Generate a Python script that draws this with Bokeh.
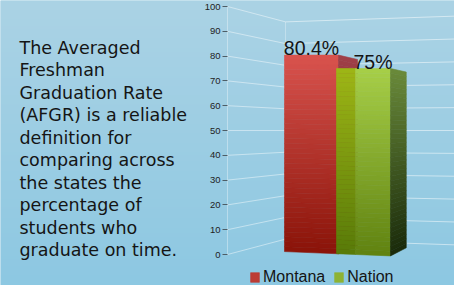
import numpy as np
from bokeh.plotting import figure
from bokeh.models import (Range1d, FixedTicker, LinearAxis, Legend, LegendItem,
                          ColumnDataSource)
from bokeh.core.properties import value
from bokeh.embed import file_html
from bokeh.resources import INLINE

# ---------------- data ----------------
categories = ["Montana", "Nation"]
rates = [80.4, 75.0]
rate_labels = ["80.4%", "75%"]
y_ticks = [0, 10, 20, 30, 40, 50, 60, 70, 80, 90, 100]
y_tick_labels = ["0", "10", "20", "30", "40", "50", "60", "70", "80", "90", "100"]
paragraph = ["The Averaged", "Freshman", "Graduation Rate", "(AFGR) is a reliable",
             "definition for", "comparing across", "the states the",
             "percentage of", "students who", "graduate on time."]

# ---------------- layout / style ----------------
W, H = 454, 285
Y0_PX = 254.0          # pixel row (from top) of value 0
PX_PER_UNIT = 2.48


def val(fy):
    return (Y0_PX - fy) / PX_PER_UNIT


BG_TOP = np.array([171, 211, 229])
BG_BOTTOM = np.array([141, 200, 226])

AXIS_X = 227
BACK_X = 285
RIGHT_X = 457
EDGE_X = 455
BACK_K = 0.876
RIGHT_K = 0.923
MID_V = 50

FRONT_LEFT = 284
SLOT = 52
FRONT_W = 54
VP_X, VP_V = 643.0, 52.0
DEPTH_F = 0.0623
BASE_V0, BASE_SLOPE = 1.18, 0.0165
N = 40

FONT_CHART = "Liberation Sans"

colors = [
    dict(front=((217, 83, 78), (138, 19, 8)), side=((160, 64, 72), (90, 12, 8)),
         band=None),
    dict(front=((167, 207, 72), (96, 130, 16)), side=((106, 138, 58), (26, 42, 10)),
         band=((158, 182, 22), (88, 122, 8))),
]

p = figure(width=W, height=H, x_range=Range1d(0, W), y_range=Range1d(val(H), val(0)),
           output_backend="svg", toolbar_location=None, min_border=0,
           x_axis_type=None, y_axis_type=None)
p.outline_line_color = None
p.xgrid.visible = False
p.ygrid.visible = False
p.border_fill_color = "#abd3e5"
p.background_fill_color = "#9ccde3"

# background gradient
rows = H
img = np.empty((rows, 1), dtype=np.uint32)
view = img.view(dtype=np.uint8).reshape((rows, 1, 4))
for i in range(rows):
    t = i / (rows - 1)
    c = BG_BOTTOM + (BG_TOP - BG_BOTTOM) * t
    view[i, 0, 0] = int(c[0]); view[i, 0, 1] = int(c[1]); view[i, 0, 2] = int(c[2]); view[i, 0, 3] = 255
p.image_rgba(image=[img], x=0, y=val(H), dw=W, dh=val(0) - val(H))

# perspective grid
lx0, ly0, lx1, ly1 = [], [], [], []
bx0, by0, bx1, by1 = [], [], [], []
for v in y_ticks:
    vb = MID_V + (v - MID_V) * BACK_K
    vr = MID_V + (v - MID_V) * RIGHT_K
    lx0.append(AXIS_X); ly0.append(v); lx1.append(BACK_X); ly1.append(vb)
    bx0.append(BACK_X); by0.append(vb); bx1.append(RIGHT_X); by1.append(vr)
p.segment(lx0, ly0, lx1, ly1, line_color="white", line_alpha=0.45, line_width=1)
p.segment(bx0, by0, bx1, by1, line_color="white", line_alpha=0.5, line_width=1)
vmin, vmax = min(y_ticks), max(y_ticks)
p.segment([BACK_X, EDGE_X],
          [MID_V + (vmin - MID_V) * BACK_K, MID_V + (vmin - MID_V) * RIGHT_K],
          [BACK_X, EDGE_X],
          [MID_V + (vmax - MID_V) * BACK_K, MID_V + (vmax - MID_V) * RIGHT_K],
          line_color="white", line_alpha=0.3, line_width=1)


def lerp(a, b, t):
    return tuple(int(round(a[k] + (b[k] - a[k]) * t)) for k in range(3))


def hexc(c):
    return "#%02x%02x%02x" % c


def face(tl, tr, br, bl, ctop, cbot):
    xs, ys, cs = [], [], []
    for k in range(N):
        t0, t1 = k / N, (k + 1) / N
        L0 = (tl[0] + (bl[0] - tl[0]) * t0, tl[1] + (bl[1] - tl[1]) * t0)
        L1 = (tl[0] + (bl[0] - tl[0]) * t1, tl[1] + (bl[1] - tl[1]) * t1)
        R0 = (tr[0] + (br[0] - tr[0]) * t0, tr[1] + (br[1] - tr[1]) * t0)
        R1 = (tr[0] + (br[0] - tr[0]) * t1, tr[1] + (br[1] - tr[1]) * t1)
        xs.append([L0[0], R0[0], R1[0], L1[0]])
        ys.append([L0[1], R0[1], R1[1], L1[1]])
        cs.append(hexc(lerp(ctop, cbot, (t0 + t1) / 2)))
    src = ColumnDataSource(dict(xs=xs, ys=ys, color=cs))
    return p.patches("xs", "ys", source=src, fill_color="color", line_color="color",
                     line_width=0.6)


def base(x):
    return BASE_V0 - (x - FRONT_LEFT) * BASE_SLOPE


legend_renderers = []
label_x = []
prev_depth = 0
for i, v in enumerate(rates):
    col = colors[i]
    left = FRONT_LEFT + i * SLOT
    right = left + FRONT_W
    split = left + prev_depth if col["band"] is not None else left
    if col["band"] is not None:
        face((left, v), (split, v), (split, base(split)), (left, base(left)),
             *col["band"])
    fr = face((split, v), (right, v), (right, base(right)), (split, base(split)),
              *col["front"])
    legend_renderers.append(fr)
    label_x.append((split + right) / 2)
    # side face toward vanishing point
    bx = right + (VP_X - right) * DEPTH_F
    top_b = v + (VP_V - v) * DEPTH_F
    bot_f = base(right)
    bot_b = bot_f + (VP_V - bot_f) * DEPTH_F
    face((right, v), (bx, top_b), (bx, bot_b), (right, bot_f), *col["side"])
    prev_depth = bx - right

# value labels
p.text(x=label_x, y=rates, text=rate_labels, text_align="center",
       text_baseline="alphabetic", y_offset=-7, text_font=value(FONT_CHART),
       text_font_size="19.5px", text_color="#141414")

# left paragraph
p.text(x=[19] * len(paragraph), y=[val(47 + 22.5 * i) for i in range(len(paragraph))],
       text=paragraph, text_align="left", text_baseline="alphabetic",
       text_font=value("DejaVu Sans"), text_font_size="17.5px", text_color="#151515")

# y axis placed inside the frame
yaxis = LinearAxis(fixed_location=AXIS_X, ticker=FixedTicker(ticks=y_ticks),
                   major_label_overrides={t: l for t, l in zip(y_ticks, y_tick_labels)},
                   bounds=(vmin, vmax))
yaxis.axis_line_color = "white"
yaxis.axis_line_alpha = 0.35
yaxis.major_tick_line_color = "#4d5d66"
yaxis.major_tick_out = 5
yaxis.major_tick_in = 0
yaxis.minor_tick_line_color = None
yaxis.major_label_standoff = 2
yaxis.major_label_text_font = FONT_CHART
yaxis.major_label_text_font_size = "9.5px"
yaxis.major_label_text_color = "#222222"
p.add_layout(yaxis, "left")

legend = Legend(items=[LegendItem(label=categories[i], renderers=[legend_renderers[i]],
                                  index=int(N * 0.35)) for i in range(len(categories))],
                orientation="horizontal", location=(249, -1), padding=0, margin=0,
                spacing=8, label_standoff=3, glyph_width=11, glyph_height=12,
                label_height=12, label_text_font=FONT_CHART,
                label_text_font_size="16px", label_text_color="#141414",
                background_fill_alpha=0, border_line_alpha=0)
p.add_layout(legend)

open("out.html", "w").write(file_html(p, INLINE))
